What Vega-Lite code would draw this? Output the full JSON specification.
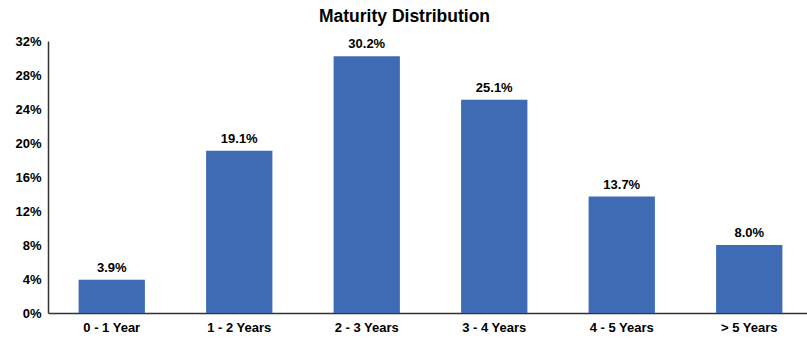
{
  "$schema": "https://vega.github.io/schema/vega-lite/v6.json",
  "autosize": {"type": "none"},
  "padding": {"left": 48, "top": 41, "right": 0, "bottom": 26},
  "width": 765,
  "height": 272,
  "background": "white",
  "title": {
    "text": "Maturity Distribution",
    "font": "Liberation Sans",
    "fontSize": 17.5,
    "fontWeight": "bold",
    "color": "#000000",
    "anchor": "middle",
    "dx": -26,
    "offset": 10
  },
  "data": {
    "values": [
      {"bucket": "0 - 1 Year", "share": 3.9},
      {"bucket": "1 - 2 Years", "share": 19.1},
      {"bucket": "2 - 3 Years", "share": 30.2},
      {"bucket": "3 - 4 Years", "share": 25.1},
      {"bucket": "4 - 5 Years", "share": 13.7},
      {"bucket": "> 5 Years", "share": 8.0}
    ]
  },
  "config": {"view": {"stroke": null}},
  "encoding": {
    "x": {
      "field": "bucket",
      "type": "nominal",
      "sort": null,
      "scale": {"paddingInner": 0.48, "paddingOuter": 0.24},
      "axis": {
        "title": null,
        "labelAngle": 0,
        "labelFont": "Liberation Sans",
        "labelFontSize": 13,
        "labelFontWeight": "bold",
        "labelColor": "#000000",
        "labelPadding": 8,
        "ticks": false,
        "domainColor": "#333333",
        "domainWidth": 1.5,
        "grid": false
      }
    },
    "y": {
      "field": "share",
      "type": "quantitative",
      "scale": {"domain": [0, 32], "nice": false},
      "axis": {
        "title": null,
        "values": [0, 4, 8, 12, 16, 20, 24, 28, 32],
        "labelExpr": "datum.value + '%'",
        "labelFont": "Liberation Sans",
        "labelFontSize": 13,
        "labelFontWeight": "bold",
        "labelColor": "#000000",
        "labelPadding": 7,
        "ticks": false,
        "domainColor": "#333333",
        "domainWidth": 1.5,
        "grid": false
      }
    }
  },
  "layer": [
    {"mark": {"type": "bar", "color": "#3F6BB5"}},
    {
      "transform": [
        {"calculate": "format(datum.share, '.1f') + '%'", "as": "label"}
      ],
      "mark": {
        "type": "text",
        "baseline": "bottom",
        "dy": -5,
        "font": "Liberation Sans",
        "fontSize": 13,
        "fontWeight": "bold",
        "color": "#000000"
      },
      "encoding": {
        "text": {"field": "label", "type": "nominal"}
      }
    }
  ]
}
